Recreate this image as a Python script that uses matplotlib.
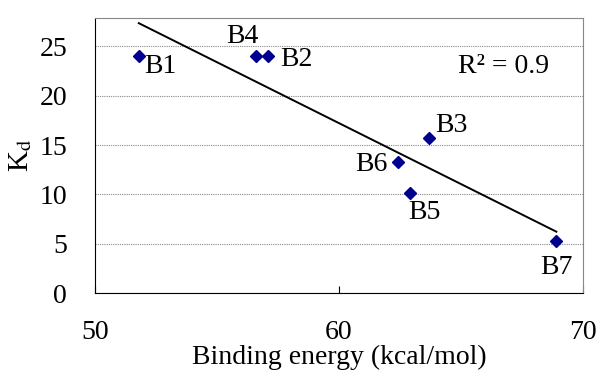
import matplotlib
matplotlib.use("Agg")
import matplotlib.pyplot as plt
import numpy as np

# ------------------------------------------------
# Data
# ------------------------------------------------
names = ["B1", "B4", "B2", "B3", "B6", "B5", "B7"]
energy = [51.8, 56.6, 57.1, 63.7, 62.4, 62.9, 68.9]
kd = [24.0, 24.0, 24.0, 15.7, 13.3, 10.1, 5.3]
# label offsets in points and alignment
offsets = {"B1": (4, -7, "left"), "B4": (2, 14, "right"), "B2": (9, -2, "left"),
           "B3": (4, 9, "left"), "B6": (-7, -2, "right"), "B5": (-1, -14, "left"),
           "B7": (0, -19, "center")}

plt.rcParams["font.family"] = ["Liberation Serif", "DejaVu Serif"]
plt.rcParams["mathtext.fontset"] = "stix"

fig = plt.figure(figsize=(6, 3.72), dpi=100)
ax = fig.add_axes([0.158, 0.212, 0.814, 0.740])

# grid
ax.set_axisbelow(True)
ax.grid(axis="y", linestyle=(0, (1, 1)), color="#888888", linewidth=0.8)

# points
ax.plot(energy, kd, linestyle="none", marker="D", markersize=6.5,
        color="#000090", zorder=3)

# linear trend
coef = np.polyfit(energy, kd, 1)
xs = np.array([min(energy), max(energy)])
ax.plot(xs, np.polyval(coef, xs), color="black", linewidth=1.4, zorder=2)

for n, x, y in zip(names, energy, kd):
    dx, dy, ha = offsets[n]
    ax.annotate(n, (x, y), xytext=(dx, dy), textcoords="offset points",
                fontsize=20, ha=ha, va="center")

ax.text(0.744, 0.822, "R² = 0.9", transform=ax.transAxes, fontsize=20,
        ha="left", va="center")

# axes
ax.set_xlim(50, 70)
ax.set_ylim(0, 27.9)
ax.set_xticks([50, 60, 70])
ax.set_yticks([0, 5, 10, 15, 20, 25])
ax.tick_params(axis="x", direction="in", length=5, pad=19, labelsize=20)
ax.tick_params(axis="y", length=0, pad=20, labelsize=20)
for s in ["top", "right"]:
    ax.spines[s].set_color("#888888")
for s in ["left", "bottom"]:
    ax.spines[s].set_color("black")
ax.set_xlabel("Binding energy (kcal/mol)", fontsize=20, labelpad=0)
ax.set_ylabel(r"K$_\mathrm{d}$", fontsize=21)
ax.yaxis.set_label_coords(-0.125, 0.5)

fig.savefig("out.png", dpi=100)
